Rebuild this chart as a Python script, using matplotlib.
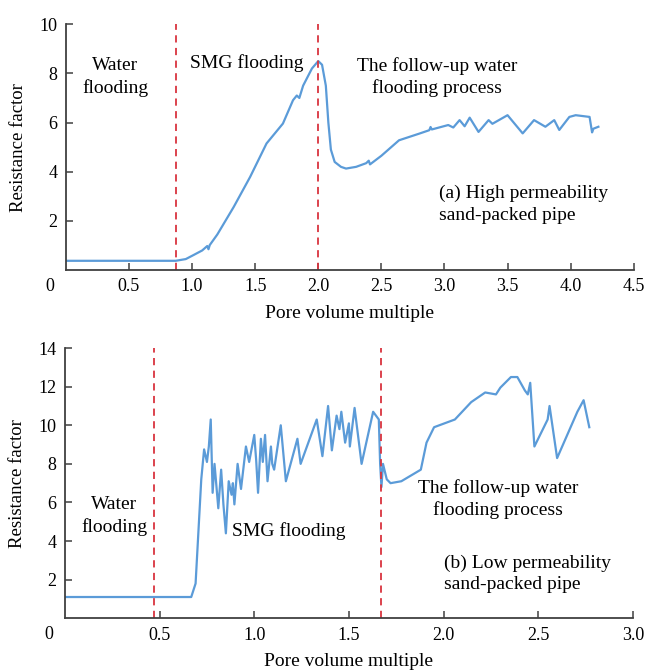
import matplotlib
matplotlib.use("Agg")
import matplotlib.pyplot as plt

# ---- data ----
pv_a = [0, 0.87, 0.95, 1.01, 1.08, 1.12, 1.13, 1.14, 1.2, 1.33, 1.46, 1.59, 1.72, 1.80,
        1.83, 1.85, 1.88, 1.95, 2.0, 2.03, 2.06, 2.08, 2.10, 2.13, 2.18, 2.22, 2.30, 2.38,
        2.40, 2.41, 2.50, 2.64, 2.80, 2.88, 2.89, 2.90, 3.03, 3.07, 3.12, 3.16, 3.20, 3.27,
        3.35, 3.38, 3.50, 3.62, 3.71, 3.80, 3.87, 3.91, 3.99, 4.04, 4.15, 4.17, 4.18, 4.22]
rf_a = [0.38, 0.38, 0.45, 0.61, 0.8, 0.98, 0.85, 1.02, 1.45, 2.57, 3.79, 5.15, 5.96, 6.91,
        7.1, 7.0, 7.5, 8.2, 8.5, 8.35, 7.5, 6.0, 4.9, 4.4, 4.2, 4.13, 4.2, 4.35,
        4.45, 4.3, 4.65, 5.28, 5.55, 5.69, 5.82, 5.72, 5.9, 5.8, 6.1, 5.85, 6.2, 5.62,
        6.1, 5.95, 6.3, 5.56, 6.1, 5.83, 6.1, 5.7, 6.23, 6.3, 6.23, 5.6, 5.75, 5.83]

pv_b = [0, 0.667, 0.69, 0.72, 0.735, 0.75, 0.76, 0.77, 0.78, 0.79, 0.81, 0.825, 0.837, 0.85,
        0.865, 0.88, 0.887, 0.895, 0.912, 0.93, 0.956, 0.973, 1.0, 1.01, 1.02, 1.035, 1.045,
        1.057, 1.07, 1.088, 1.095, 1.105, 1.14, 1.167, 1.228, 1.245, 1.33, 1.36, 1.39, 1.41,
        1.435, 1.45, 1.46, 1.48, 1.50, 1.505, 1.53, 1.567, 1.628, 1.658, 1.665, 1.672, 1.68,
        1.70, 1.72, 1.777, 1.88, 1.91, 1.95, 2.06, 2.146, 2.22, 2.277, 2.30, 2.356, 2.39,
        2.43, 2.445, 2.458, 2.48, 2.55, 2.56, 2.60, 2.707, 2.74, 2.77]
rf_b = [1.1, 1.1, 1.8, 7.2, 8.75, 8.1, 8.9, 10.3, 6.5, 8.0, 5.7, 7.7, 5.9, 4.4,
        7.1, 6.4, 7.0, 5.9, 8.0, 6.7, 8.9, 8.1, 9.5, 8.2, 6.5, 9.3, 8.1,
        9.5, 7.1, 8.9, 8.0, 7.7, 10.0, 7.1, 9.3, 8.0, 10.3, 8.4, 11.0, 8.7,
        10.5, 9.8, 10.7, 9.1, 10.1, 8.9, 10.9, 8.0, 10.7, 10.3, 8.0, 6.8, 8.0,
        7.2, 7.0, 7.1, 7.7, 9.1, 9.9, 10.3, 11.2, 11.7, 11.6, 11.95, 12.5, 12.5,
        11.8, 11.6, 12.2, 8.9, 10.3, 11.0, 8.3, 10.7, 11.3, 9.9]

stage_a = [0.87, 2.0]
stage_b = [0.47, 1.667]
xticks_a = [0.5, 1.0, 1.5, 2.0, 2.5, 3.0, 3.5, 4.0, 4.5]
yticks_a = [2, 4, 6, 8, 10]
xticks_b = [0.5, 1.0, 1.5, 2.0, 2.5, 3.0]
yticks_b = [2, 4, 6, 8, 10, 12, 14]

# ---- style ----
plt.rcParams['font.family'] = ['Liberation Serif', 'DejaVu Serif']
blue = '#5b9bd8'
red = '#d9343f'
spine_c = '#404040'
tfs = 13
afs = 14

fig = plt.figure(figsize=(6.46, 6.72), dpi=100)
ax1 = fig.add_axes([0.102, 0.598, 0.879, 0.366])
ax2 = fig.add_axes([0.1006, 0.080, 0.879, 0.402])

def style(ax, xmax, ymax, xt, yt):
    ax.set_xlim(0, xmax)
    ax.set_ylim(0, ymax)
    for s in ['top', 'right']:
        ax.spines[s].set_visible(False)
    for s in ['left', 'bottom']:
        ax.spines[s].set_color(spine_c)
        ax.spines[s].set_linewidth(1.3)
    ax.set_xticks(xt)
    ax.set_xticklabels([f"{v:.1f}" for v in xt])
    ax.set_yticks(yt)
    ax.set_yticklabels([str(v) for v in yt])
    ax.tick_params(direction='in', length=5, width=1.1, color=spine_c,
                   labelsize=tfs, pad=6)
    ax.set_xlabel('Pore volume multiple', fontsize=14, labelpad=7)
    ax.set_ylabel('Resistance factor', fontsize=13.5, labelpad=9)
    ax.annotate('0', xy=(0, 0), xycoords='data', xytext=(-11.5, -11.5),
                textcoords='offset points', fontsize=tfs, ha='center', va='center')

# panel a
ax1.plot(pv_a, rf_a, color=blue, lw=1.6)
for xv in stage_a:
    ax1.axvline(xv, color=red, lw=1.3, ls=(0, (4, 3)))
style(ax1, 4.5, 10, xticks_a, yticks_a)
ax1.text(0.39, 7.85, 'Water\nflooding', fontsize=afs, ha='center', va='center', linespacing=1.35)
ax1.text(1.43, 8.4, 'SMG flooding', fontsize=afs, ha='center', va='center')
ax1.text(2.94, 7.85, 'The follow-up water\nflooding process', fontsize=afs,
         ha='center', va='center', linespacing=1.35)
ax1.text(2.96, 2.68, '(a) High permeability\nsand-packed pipe', fontsize=afs,
         ha='left', va='center', linespacing=1.35)

# panel b
ax2.plot(pv_b, rf_b, color=blue, lw=1.6)
for xv in stage_b:
    ax2.axvline(xv, color=red, lw=1.3, ls=(0, (4, 3)))
style(ax2, 3.0, 14, xticks_b, yticks_b)
ax2.text(0.26, 5.3, 'Water\nflooding', fontsize=afs, ha='center', va='center', linespacing=1.35)
ax2.text(1.18, 4.5, 'SMG flooding', fontsize=afs, ha='center', va='center')
ax2.text(2.29, 6.18, 'The follow-up water\nflooding process', fontsize=afs,
         ha='center', va='center', linespacing=1.35)
ax2.text(2.0, 2.3, '(b) Low permeability\nsand-packed pipe', fontsize=afs,
         ha='left', va='center', linespacing=1.35)

fig.savefig('out.png', dpi=100)
